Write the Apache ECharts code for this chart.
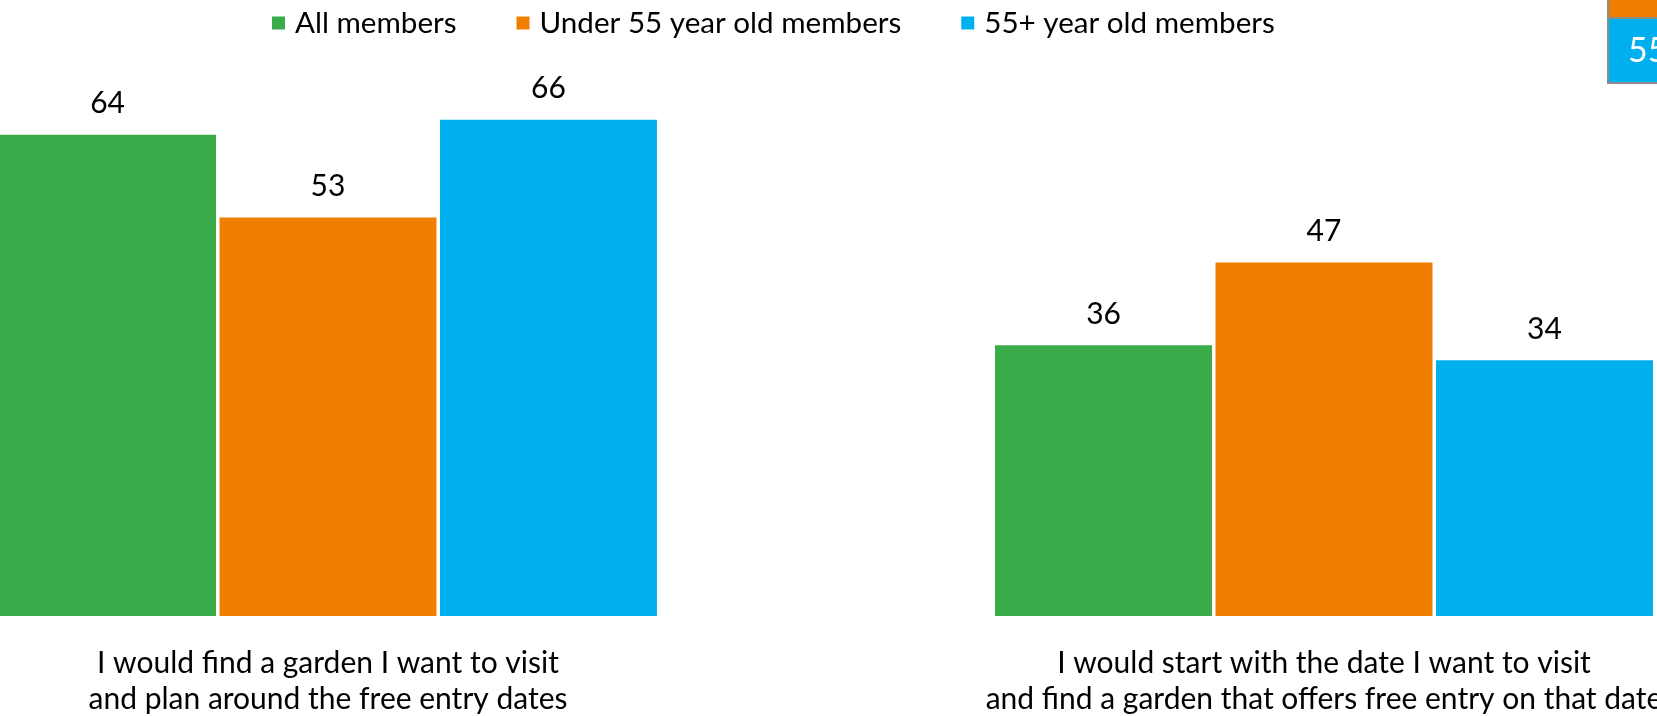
<!DOCTYPE html>
<html>
<head>
<meta charset="utf-8">
<script src="https://cdn.jsdelivr.net/npm/echarts@6/dist/echarts.min.js"></script>
<style>
  html, body { margin: 0; padding: 0; background: #ffffff; }
  #chart { width: 1657px; height: 716px; }
</style>
</head>
<body>
<div id="chart"></div>
<script>
// Survey answers: how members would plan a free-entry garden visit (percent)
const categories = [
  'I would find a garden I want to visit\nand plan around the free entry dates',
  'I would start with the date I want to visit\nand find a garden that offers free entry on that date'
];
const seriesNames = ['All members', 'Under 55 year old members', '55+ year old members'];
const allMembers = [64, 36];
const under55Members = [53, 47];
const over55Members = [66, 34];
const seriesColors = ['#39AB48', '#F07E00', '#00B0EE'];

const FONT = 'Lato';
const values = [allMembers, under55Members, over55Members];

const chart = echarts.init(document.getElementById('chart'), null, { renderer: 'canvas' });

chart.setOption({
  backgroundColor: '#ffffff',
  animation: false,
  textStyle: { fontFamily: FONT, color: '#000000' },
  legend: {
    left: 267,
    top: 3,
    icon: 'rect',
    itemWidth: 13,
    itemHeight: 13,
    itemGap: 60,
    textStyle: { fontFamily: FONT, fontSize: 29.6, color: '#000000', padding: [0, 0, 0, 5] },
    data: seriesNames
  },
  // the plot area runs past both edges of the canvas, so the outer bars are clipped
  grid: {
    left: -170,
    width: 1992,
    top: 14.4,
    bottom: 100,
    containLabel: false,
    outerBoundsMode: 'none'
  },
  xAxis: {
    type: 'category',
    data: categories,
    axisLine: { show: false },
    axisTick: { show: false },
    axisLabel: {
      margin: 29,
      fontFamily: FONT,
      fontSize: 30,
      lineHeight: 36,
      color: '#000000',
      interval: 0
    }
  },
  yAxis: {
    type: 'value',
    min: 0,
    max: 80,
    show: false,
    splitLine: { show: false }
  },
  series: seriesNames.map((name, i) => ({
    name: name,
    type: 'bar',
    data: values[i],
    barWidth: 217,
    barGap: '1.6%',
    itemStyle: { color: seriesColors[i] },
    label: {
      show: true,
      position: 'top',
      distance: 16,
      fontFamily: FONT,
      fontSize: 30,
      color: '#000000'
    }
  })),
  graphic: [
    {
      type: 'rect',
      shape: { x: 1608, y: -4, width: 60, height: 22 },
      style: { fill: '#F07E00', stroke: '#8C8C8C', lineWidth: 2 }
    },
    {
      type: 'rect',
      shape: { x: 1608, y: 18, width: 60, height: 65 },
      style: { fill: '#00B0EE', stroke: '#8C8C8C', lineWidth: 2 }
    },
    {
      type: 'text',
      x: 1628,
      y: 51,
      style: {
        text: '55',
        fill: '#ffffff',
        font: '34px ' + FONT,
        verticalAlign: 'middle',
        align: 'left'
      }
    }
  ]
});
</script>
</body>
</html>
